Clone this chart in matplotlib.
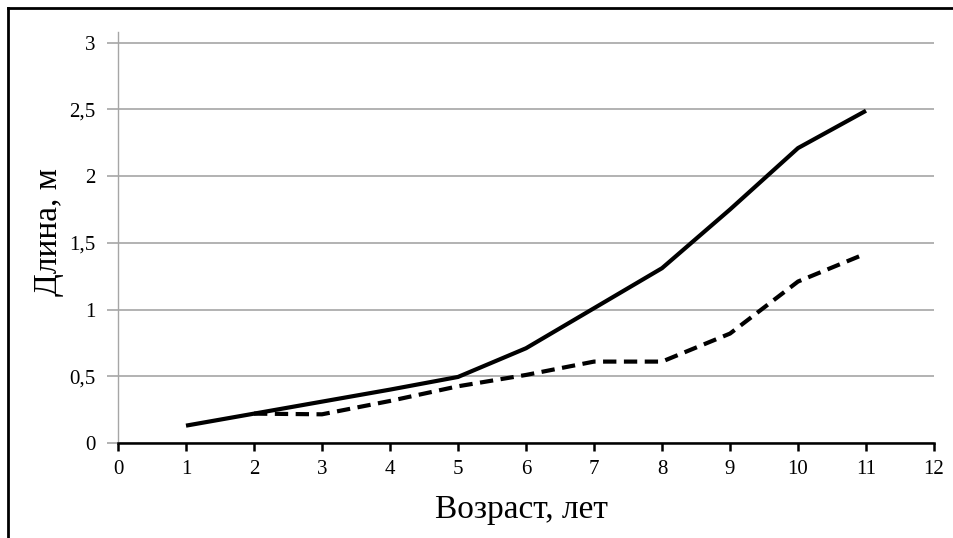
import matplotlib
matplotlib.use("Agg")
import matplotlib.pyplot as plt
from matplotlib.lines import Line2D

plt.rcParams['font.family'] = ['Liberation Serif', 'DejaVu Serif']

age_solid = [1, 2, 3, 4, 5, 6, 7, 8, 9, 10, 11]
len_solid = [0.13, 0.22, 0.31, 0.40, 0.495, 0.71, 1.01, 1.31, 1.75, 2.21, 2.49]
age_dash = [2, 3, 4, 5, 6, 7, 8, 9, 10, 11]
len_dash = [0.22, 0.215, 0.315, 0.425, 0.51, 0.61, 0.61, 0.82, 1.21, 1.42]
yticks = [0, 0.5, 1, 1.5, 2, 2.5, 3]
ytick_labels = ["0", "0,5", "1", "1,5", "2", "2,5", "3"]
xticks = list(range(0, 13))

fig = plt.figure(figsize=(9.54, 5.38), dpi=100)
ax = fig.add_axes([118/954, 1-443/538, (934-118)/954, (443-32)/538])

ax.plot(age_solid, len_solid, color='black', lw=3.0, solid_capstyle='butt')
ax.plot(age_dash, len_dash, color='black', lw=3.0, linestyle=(0, (3.2, 1.8)))

ax.set_xlim(0, 12)
ax.set_ylim(0, 3.08)
ax.set_yticks(yticks)
ax.set_yticklabels(ytick_labels)
ax.set_xticks(xticks)
ax.grid(axis='y', color='#a6a6a6', lw=1.2)
ax.set_axisbelow(True)
for s in ['top', 'right']:
    ax.spines[s].set_visible(False)
ax.spines['left'].set_color('#a6a6a6')
ax.spines['left'].set_linewidth(1.0)
ax.spines['bottom'].set_color('black')
ax.spines['bottom'].set_linewidth(1.8)
ax.tick_params(axis='y', length=8, width=1.2, color='#a6a6a6', labelsize=15, pad=8)
ax.tick_params(axis='x', direction='out', length=6, width=1.8, color='black', labelsize=15, pad=6)

ax.set_ylabel("Длина, м", fontsize=24, va='center')
ax.yaxis.set_label_coords((49-118)/816, 0.5 - ((443-32)/2 - (443-232)) / 411)
ax.set_xlabel("Возраст, лет", fontsize=24, va='center')
ax.xaxis.set_label_coords(0.5 + ((521-118) - 408) / 816, (443-510)/411)

# figure frame (partially visible)
fig.add_artist(Line2D([8/954, 8/954], [0, 1-8/538], transform=fig.transFigure, color='black', lw=2))
fig.add_artist(Line2D([8/954, 1], [1-8/538, 1-8/538], transform=fig.transFigure, color='black', lw=2))

fig.savefig("out.png", dpi=100, facecolor='white')
